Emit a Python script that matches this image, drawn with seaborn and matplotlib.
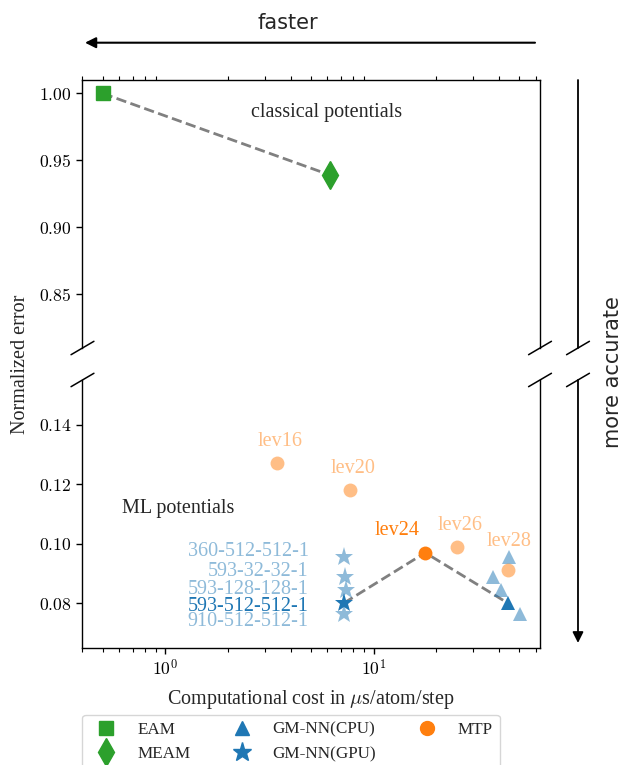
import numpy as np
import pandas as pd
import matplotlib
matplotlib.use("Agg")
import matplotlib.pyplot as plt
from matplotlib.ticker import FixedLocator, FuncFormatter, LogLocator, NullFormatter
import seaborn as sns

# ---------------- data ----------------
eam_cost = [0.5]
eam_err = [1.00]
meam_cost = [6.2]
meam_err = [0.939]

mtp_labels = ["lev16", "lev20", "lev24", "lev26", "lev28"]
mtp_cost = [3.45, 7.7, 17.7, 25.2, 44.0]
mtp_err = [0.127, 0.118, 0.097, 0.099, 0.0913]

gmnn_labels = ["360-512-512-1", "593-32-32-1", "593-128-128-1", "593-512-512-1", "910-512-512-1"]
gmnn_gpu_cost = [7.2, 7.3, 7.4, 7.2, 7.2]
gmnn_cpu_cost = [44.6, 37.5, 40.7, 44.1, 50.3]
gmnn_err = [0.0955, 0.0889, 0.0846, 0.0801, 0.0764]

best_mtp = "lev24"
best_gmnn = "593-512-512-1"

upper_yticks = [0.85, 0.90, 0.95, 1.00]
lower_yticks = [0.08, 0.10, 0.12, 0.14]

# ---------------- style ----------------
sns.set_style("ticks")
plt.rcParams["font.family"] = ["Liberation Serif", "DejaVu Serif"]
plt.rcParams["mathtext.fontset"] = "cm"
plt.rcParams["axes.linewidth"] = 1.0
plt.rcParams["xtick.major.size"] = 4.5
plt.rcParams["ytick.major.size"] = 4.5
plt.rcParams["xtick.minor.size"] = 2.6
plt.rcParams["ytick.minor.size"] = 2.6
plt.rcParams["xtick.major.width"] = 1.0
plt.rcParams["ytick.major.width"] = 1.0
plt.rcParams["xtick.minor.width"] = 0.8
plt.rcParams["xtick.color"] = "black"
plt.rcParams["ytick.color"] = "black"
plt.rcParams["axes.edgecolor"] = "black"

GREEN = "#2ca02c"
BLUE = "#1f77b4"
ORANGE = "#ff7f0e"
LIGHT = 0.5

fig = plt.figure(figsize=(6.23, 7.65), dpi=100)
left, right = 0.1324, 0.8668
ax1 = fig.add_axes([left, 0.5451, right - left, 0.8954 - 0.5451])
ax2 = fig.add_axes([left, 0.1529, right - left, 0.5033 - 0.1529], sharex=ax1)

classical = pd.DataFrame({"cost": eam_cost + meam_cost, "err": eam_err + meam_err})
mtp = pd.DataFrame({"cost": mtp_cost, "err": mtp_err, "label": mtp_labels})
gm = pd.DataFrame({"gpu": gmnn_gpu_cost, "cpu": gmnn_cpu_cost, "err": gmnn_err, "label": gmnn_labels})

# ---- upper panel: classical potentials ----
sns.lineplot(data=classical, x="cost", y="err", ax=ax1, color="gray", lw=2,
             linestyle="--", sort=False, zorder=1)
ax1.plot(eam_cost, eam_err, linestyle="none", marker="s", ms=10.5, color=GREEN, zorder=3)
ax1.plot(meam_cost, meam_err, linestyle="none", marker="d", ms=14, color=GREEN, zorder=3)

# ---- lower panel: ML potentials ----
bg = gm[gm["label"] == best_gmnn].iloc[0]
bm = mtp[mtp["label"] == best_mtp].iloc[0]
path = pd.DataFrame({"cost": [bg["gpu"], bm["cost"], bg["cpu"]],
                     "err": [bg["err"], bm["err"], bg["err"]]})
sns.lineplot(data=path, x="cost", y="err", ax=ax2, color="gray", lw=2,
             linestyle="--", sort=False, zorder=1)

for _, r in gm.iterrows():
    a = 1.0 if r["label"] == best_gmnn else LIGHT
    ax2.plot([r["cpu"]], [r["err"]], linestyle="none", marker="^", ms=10.5,
             color=BLUE, alpha=a, markeredgewidth=0, zorder=3)
    ax2.plot([r["gpu"]], [r["err"]], linestyle="none", marker="*", ms=14,
             color=BLUE, alpha=a, markeredgewidth=0, zorder=3)

mtp_offsets = {"lev16": (3, 22), "lev20": (3, 22), "lev24": (-28, 22),
               "lev26": (3, 21), "lev28": (1, 28)}
for _, r in mtp.iterrows():
    a = 1.0 if r["label"] == best_mtp else LIGHT
    ax2.plot([r["cost"]], [r["err"]], linestyle="none", marker="o", ms=10,
             color=ORANGE, alpha=a, markeredgewidth=0, zorder=4)
    ax2.annotate(r["label"], (r["cost"], r["err"]), xytext=mtp_offsets[r["label"]],
                 textcoords="offset pixels", ha="center", va="center",
                 color=ORANGE, alpha=a, fontsize=14.5)

# GM-NN model labels (stacked list to the left of the GPU stars)
label_y = [0.0975, 0.0908, 0.0847, 0.0789, 0.0739]
for lab, ly in zip(gmnn_labels, label_y):
    a = 1.0 if lab == best_gmnn else LIGHT
    ax2.text(4.87, ly, lab, ha="right", va="center", color=BLUE, alpha=a, fontsize=14.5)

ax1.text(0.534, 0.877, "classical potentials", transform=ax1.transAxes,
         ha="center", va="center", fontsize=14.5)
ax2.text(0.209, 0.521, "ML potentials", transform=ax2.transAxes,
         ha="center", va="center", fontsize=14.5)

# ---- axes formatting ----
for ax in (ax1, ax2):
    ax.set_xscale("log")
    ax.set_xlabel("")
    ax.set_ylabel("")
ax2.set_xlim(0.4, 63)
ax1.set_ylim(0.81, 1.01)
ax2.set_ylim(0.065, 0.155)

ax1.yaxis.set_major_locator(FixedLocator(upper_yticks))
ax2.yaxis.set_major_locator(FixedLocator(lower_yticks))
fmt = FuncFormatter(lambda v, p: r"$%.2f$" % v)
ax1.yaxis.set_major_formatter(fmt)
ax2.yaxis.set_major_formatter(fmt)
ax2.xaxis.set_major_locator(LogLocator(base=10, numticks=10))
ax2.xaxis.set_minor_locator(LogLocator(base=10, subs=np.arange(2, 10), numticks=20))
ax2.xaxis.set_major_formatter(FuncFormatter(lambda v, p: r"$10^{%d}$" % round(np.log10(v))))
ax2.xaxis.set_minor_formatter(NullFormatter())

ax1.spines["bottom"].set_visible(False)
ax2.spines["top"].set_visible(False)
ax1.xaxis.tick_top()
ax1.tick_params(axis="x", which="major", length=0, labeltop=False, labelbottom=False)
ax1.tick_params(axis="x", which="minor", top=True, bottom=False)
ax2.xaxis.tick_bottom()
for ax in (ax1, ax2):
    ax.tick_params(axis="y", labelsize=12.7, right=False)
ax2.tick_params(axis="x", which="major", labelsize=12.7)

ax2.set_xlabel(r"Computational cost in $\mu$s/atom/step", fontsize=14.5, labelpad=6)
fig.text(0.033, 0.524, "Normalized error", rotation=90, ha="center", va="center", fontsize=14.5)

# ---- break marks ----
d = 0.025
xr = 1.083
for x0 in (0.0, 1.0, xr):
    ax1.plot((x0 - d, x0 + d), (-d, d), transform=ax1.transAxes, color="k", lw=1.1, clip_on=False)
    ax2.plot((x0 - d, x0 + d), (1 - d, 1 + d), transform=ax2.transAxes, color="k", lw=1.1, clip_on=False)

# ---- "more accurate" arrow (broken) ----
ax1.plot((xr, xr), (0, 1), transform=ax1.transAxes, color="k", lw=1.3, clip_on=False)
ax2.annotate("", xy=(xr, 0.019), xytext=(xr, 1.0), xycoords="axes fraction",
             textcoords="axes fraction", annotation_clip=False,
             arrowprops=dict(arrowstyle="-|>", color="k", lw=1.3, mutation_scale=16,
                             shrinkA=0, shrinkB=0))
fig.text(0.984, 0.513, "more accurate", rotation=90, ha="center", va="center",
         fontsize=15, family="DejaVu Sans")

# ---- "faster" arrow ----
fig.add_artist(matplotlib.patches.FancyArrowPatch(
    (535 / 623, 1 - 42.7 / 765), (85 / 623, 1 - 42.7 / 765), transform=fig.transFigure,
    arrowstyle="-|>", mutation_scale=16, color="k", lw=1.5, shrinkA=0, shrinkB=0))
fig.text(288 / 623, 1 - 23 / 765, "faster", ha="center", va="center",
         fontsize=15, family="DejaVu Sans")

# ---- legend ----
from matplotlib.lines import Line2D
handles = [
    Line2D([], [], linestyle="none", marker="s", ms=10.5, color=GREEN),
    Line2D([], [], linestyle="none", marker="d", ms=14, color=GREEN),
    Line2D([], [], linestyle="none", marker="^", ms=10.5, color=BLUE),
    Line2D([], [], linestyle="none", marker="*", ms=14, color=BLUE),
    Line2D([], [], linestyle="none", marker="o", ms=10, color=ORANGE),
]
labels = ["EAM", "MEAM", "GM-NN(CPU)", "GM-NN(GPU)", "MTP"]
ax2.legend(handles, labels, ncol=3, loc="upper left", bbox_to_anchor=(0.0, -0.25),
           borderaxespad=0, fontsize=12.3, frameon=True)

fig.savefig("out.png", dpi=100)
